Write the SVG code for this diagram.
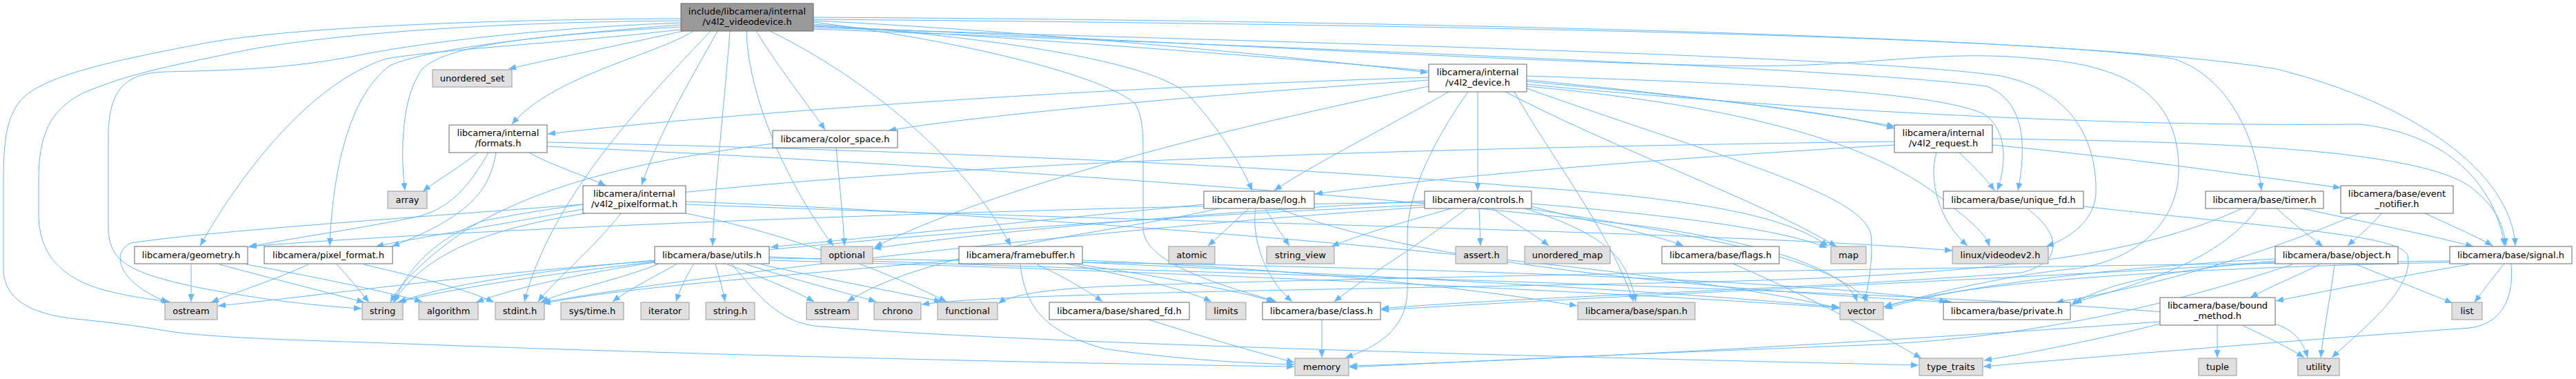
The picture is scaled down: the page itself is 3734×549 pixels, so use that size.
<svg xmlns="http://www.w3.org/2000/svg" width="3734" height="549" viewBox="0 0 3734 549">
<style>
text{font-family:"DejaVu Sans","Liberation Sans",sans-serif;font-size:13px;text-anchor:middle;fill:#000}
.w rect{fill:#fff;stroke:#666;stroke-width:1}
.g rect{fill:#e0e0e0;stroke:#999;stroke-width:1}
.m rect{fill:#999;stroke:#666;stroke-width:1}
#edges path{fill:none;stroke:#63b8ff;stroke-width:1;marker-end:url(#a)}
</style>
<defs>
<marker id="a" viewBox="0 0 11 9" refX="11" refY="4.5" markerWidth="11" markerHeight="9" orient="auto" markerUnits="userSpaceOnUse"><path d="M0,0 L11,4.5 L0,9 z" fill="#63b8ff" stroke="none"/></marker>
</defs>
<rect width="3734" height="549" fill="#fff"/>
<g id="edges">
<path d="M987,27 C700,28 420,40 300,62 C150,90 70,110 35,140 C10,165 5,200 5,260 L5,390 C5,430 40,455 110,462 C160,467 200,472 245,480 C330,492 500,494 640,500 C1000,513 1500,526 1876,531"/>
<path d="M987,30 C700,32 480,50 360,72 C250,95 190,105 120,135 C70,160 56,200 56,260 L56,310 C56,360 80,400 150,420 C190,430 215,433 246,437"/>
<path d="M987,33 C800,40 620,60 520,80 C420,100 330,102 240,104 C180,106 157,130 157,200 L157,330 C157,380 190,395 280,415 C380,435 470,444 524,447"/>
<path d="M992,42 C850,60 650,70 560,85 C450,120 350,250 290,356"/>
<path d="M987,36 C800,50 620,70 565,95 C505,140 482,250 478,356"/>
<path d="M987,39 C800,50 650,62 612,100 C582,140 580,220 587,276"/>
<path d="M990,45 C900,65 800,85 737,100"/>
<path d="M1005,45 C950,80 800,110 742,180"/>
<path d="M1040,45 C1010,100 960,180 930,268"/>
<path d="M1030,45 C950,130 800,280 760,437"/>
<path d="M1058,45 C1050,150 1035,280 1033,356"/>
<path d="M1082,45 C1085,150 1150,280 1208,356"/>
<path d="M1096,45 C1130,100 1170,150 1196,188"/>
<path d="M1116,45 C1250,110 1400,230 1465,356"/>
<path d="M1179,35 C1450,55 1680,90 1725,140 C1770,190 1800,240 1815,276"/>
<path d="M1179,32 C1400,60 1600,110 1645,150 C1658,170 1657,200 1657,240 L1657,330 C1657,380 1760,410 1850,437"/>
<path d="M1179,30 C1500,45 1900,85 2070,105"/>
<path d="M1179,37 C1700,70 2400,120 2746,183"/>
<path d="M1179,40 C1800,60 2700,80 2900,110 C3000,130 3040,200 3038,280 C3036,320 3000,345 2966,357"/>
<path d="M1179,42 C1900,70 2700,100 2880,125 C2930,145 2940,200 2925,276"/>
<path d="M1179,28 C2000,35 2900,50 3150,85 C3230,110 3270,200 3278,276"/>
<path d="M1179,25 C2000,30 3000,50 3300,100 C3500,150 3640,250 3646,356"/>
<path d="M1179,38 C1700,60 2200,90 2500,95 C2700,100 2800,70 2950,85 C3100,95 3160,150 3158,250 C3156,320 3100,380 2999,390 C2900,400 2780,430 2731,445"/>
<path d="M692,221 C670,240 635,260 613,277"/>
<path d="M708,221 C680,270 650,305 600,315 C500,335 420,345 360,358"/>
<path d="M719,221 C710,270 690,310 568,357"/>
<path d="M767,221 C800,240 850,255 878,269"/>
<path d="M793,206 C1200,215 1800,235 2200,270 C2500,290 2600,320 2650,357"/>
<path d="M793,212 C1300,235 2000,280 2400,330 C2600,360 2680,400 2692,437"/>
<path d="M845,296 C600,315 300,335 190,352 C160,365 170,410 244,438"/>
<path d="M848,309 C720,330 620,360 570,438"/>
<path d="M845,303 C700,330 600,345 545,357"/>
<path d="M900,309 C860,360 800,410 780,437"/>
<path d="M994,309 C1150,340 1300,400 1372,437"/>
<path d="M994,292 C1500,310 2400,380 2667,447"/>
<path d="M994,296 C1600,320 2500,335 2830,363"/>
<path d="M447,383 C400,405 350,420 306,438"/>
<path d="M488,383 C505,400 520,420 535,438"/>
<path d="M527,383 C600,400 680,420 716,438"/>
<path d="M277,383 L277,437"/>
<path d="M318,383 C400,405 480,425 528,438"/>
<path d="M357,383 C450,400 550,420 612,437"/>
<path d="M1212,214 C1216,260 1222,310 1224,356"/>
<path d="M1120,208 C950,230 800,260 680,330 C620,370 580,410 566,438"/>
<path d="M949,380 C850,395 750,415 690,438"/>
<path d="M949,377 C800,390 650,410 578,438"/>
<path d="M955,382 C900,405 820,420 784,438"/>
<path d="M980,383 C950,400 910,420 888,437"/>
<path d="M1005,383 C995,400 985,420 980,437"/>
<path d="M1037,383 C1042,400 1048,420 1051,437"/>
<path d="M1054,383 C1100,400 1150,420 1180,437"/>
<path d="M1082,383 C1150,405 1230,425 1270,437"/>
<path d="M1103,383 C1200,405 1310,425 1365,437"/>
<path d="M949,378 C700,395 450,430 316,443"/>
<path d="M1061,383 C1100,430 1130,465 1180,472 C1500,500 2400,520 2781,529"/>
<path d="M1115,372 C1600,395 3000,420 3300,470 C3330,480 3340,500 3345,518"/>
<path d="M1115,377 C1600,390 2300,420 2666,446"/>
<path d="M1115,374 C1800,380 2600,400 2822,437"/>
<path d="M1810,302 C1790,320 1770,340 1751,356"/>
<path d="M1834,302 C1845,320 1858,340 1869,356"/>
<path d="M1820,302 C1814,340 1830,400 1873,437"/>
<path d="M1853,302 C2000,360 2300,410 2830,438"/>
<path d="M1745,296 C1500,320 1300,340 1117,358"/>
<path d="M1767,302 C1600,340 1350,360 1228,437"/>
<path d="M2144,302 L2146,356"/>
<path d="M2163,302 C2190,320 2225,340 2245,356"/>
<path d="M2104,302 C2040,320 1970,340 1930,357"/>
<path d="M2126,302 C2050,360 1980,400 1934,437"/>
<path d="M2220,299 C2300,320 2400,340 2440,356"/>
<path d="M2220,295 C2400,310 2580,330 2648,359"/>
<path d="M2210,302 C2300,330 2345,360 2360,400 C2368,420 2370,430 2371,437"/>
<path d="M2215,302 C2450,340 2650,370 2708,437"/>
<path d="M2065,293 C1500,300 700,330 361,357"/>
<path d="M2065,297 C1500,320 800,380 576,438"/>
<path d="M2065,300 C1600,330 1000,400 787,438"/>
<path d="M2065,291 C1700,310 1400,340 1266,360"/>
<path d="M2071,112 C1500,130 1000,170 794,194"/>
<path d="M2071,116 C1700,140 1400,170 1288,189"/>
<path d="M2100,133 C2000,190 1900,240 1847,276"/>
<path d="M2142,133 L2142,276"/>
<path d="M2128,133 C2080,200 2040,280 2040,340 L2040,420 C2040,480 1990,505 1950,518"/>
<path d="M2182,133 C2350,220 2550,290 2662,357"/>
<path d="M2213,128 C2500,230 2700,280 2712,340 C2716,380 2706,420 2703,437"/>
<path d="M2071,125 C1700,200 1400,290 1268,358"/>
<path d="M2213,125 C2600,160 2750,230 2830,300 C2870,330 2880,345 2884,357"/>
<path d="M2213,122 C2500,150 3000,185 3420,180 C3560,195 3620,280 3630,356"/>
<path d="M2195,133 C2250,230 2330,330 2368,437"/>
<path d="M2213,110 C2500,120 2800,130 2875,165 C2915,190 2905,250 2895,276"/>
<path d="M2213,118 C2450,140 2650,160 2746,186"/>
<path d="M2807,221 C2795,260 2810,320 2852,356"/>
<path d="M2840,221 C2860,240 2880,260 2891,276"/>
<path d="M2888,210 C3100,230 3300,260 3393,272"/>
<path d="M2888,201 C3200,205 3500,215 3580,270 C3620,300 3630,330 3632,356"/>
<path d="M2746,210 C2400,230 2100,255 1906,281"/>
<path d="M2746,205 C2000,215 1100,240 700,320 C620,350 585,400 572,437"/>
<path d="M3020,299 C3300,330 3480,340 3490,370 C3500,420 3420,480 3380,518"/>
<path d="M2938,302 C2990,340 2990,380 2930,395 C2600,420 2200,430 2002,447"/>
<path d="M3300,302 C3320,320 3345,340 3367,357"/>
<path d="M3337,302 C3420,320 3520,340 3585,357"/>
<path d="M3272,302 C3230,360 3150,400 3006,438"/>
<path d="M3250,302 C3100,370 2900,400 2400,410 C1900,420 1450,425 1336,441"/>
<path d="M3452,309 C3435,330 3415,345 3403,356"/>
<path d="M3515,309 C3560,330 3595,345 3613,356"/>
<path d="M3420,309 C3300,360 3150,410 2980,438"/>
<path d="M3415,383 C3470,405 3520,425 3555,439"/>
<path d="M3384,383 C3378,430 3368,480 3364,518"/>
<path d="M3362,383 C3330,400 3290,415 3262,431"/>
<path d="M3298,378 C3150,390 3050,410 3002,442"/>
<path d="M3298,375 C3100,385 2850,410 2732,447"/>
<path d="M3298,380 C3000,400 2400,425 2002,449"/>
<path d="M3323,383 C3150,440 2950,490 2700,500 C2300,515 2100,525 1956,532"/>
<path d="M3629,383 C3615,400 3600,420 3587,438"/>
<path d="M3579,383 C3480,400 3380,420 3299,436"/>
<path d="M3640,383 C3645,440 3620,470 3580,475 C3300,495 3000,520 2875,531"/>
<path d="M3551,380 C3100,390 2850,410 2731,444"/>
<path d="M3551,378 C3000,385 2000,400 1600,415 C1500,420 1460,430 1447,440"/>
<path d="M3214,471 L3214,518"/>
<path d="M3250,471 C3290,490 3320,505 3340,518"/>
<path d="M3131,469 C3050,490 2950,510 2876,522"/>
<path d="M3131,466 C2800,490 2300,520 1956,530"/>
<path d="M1916,463 L1916,518"/>
<path d="M1665,463 C1750,490 1820,510 1876,525"/>
<path d="M2512,382 C2600,420 2700,470 2785,519"/>
<path d="M1503,383 C1540,400 1575,420 1598,437"/>
<path d="M1479,383 C1485,440 1510,480 1600,505 C1700,520 1800,526 1876,528"/>
<path d="M1545,382 C1640,400 1720,420 1756,437"/>
<path d="M1556,382 C1680,400 1790,420 1847,437"/>
<path d="M1390,376 C1200,395 900,415 787,440"/>
<path d="M1569,380 C2000,400 2400,420 2666,445"/>
<path d="M1569,377 C1900,390 2150,420 2286,443"/>
</g>
<g id="node-main" class="m"><rect x="987" y="5" width="192" height="40"/><text x="1083" y="21">include/libcamera/internal</text><text x="1083" y="36">/v4l2_videodevice.h</text></g>
<g id="node-unordered_set" class="g"><rect x="627" y="101" width="115" height="25"/><text x="684.5" y="118">unordered_set</text></g>
<g id="node-formats" class="w"><rect x="651" y="181" width="142" height="40"/><text x="722" y="197">libcamera/internal</text><text x="722" y="212">/formats.h</text></g>
<g id="node-color_space" class="w"><rect x="1120" y="189" width="181" height="25"/><text x="1210.5" y="206">libcamera/color_space.h</text></g>
<g id="node-v4l2_device" class="w"><rect x="2071" y="93" width="142" height="40"/><text x="2142" y="109">libcamera/internal</text><text x="2142" y="124">/v4l2_device.h</text></g>
<g id="node-v4l2_request" class="w"><rect x="2746" y="181" width="142" height="40"/><text x="2817" y="197">libcamera/internal</text><text x="2817" y="212">/v4l2_request.h</text></g>
<g id="node-array" class="g"><rect x="562" y="277" width="57" height="25"/><text x="590.5" y="294">array</text></g>
<g id="node-v4l2_pixelformat" class="w"><rect x="845" y="269" width="149" height="40"/><text x="919.5" y="285">libcamera/internal</text><text x="919.5" y="300">/v4l2_pixelformat.h</text></g>
<g id="node-log" class="w"><rect x="1745" y="277" width="160" height="25"/><text x="1825" y="294">libcamera/base/log.h</text></g>
<g id="node-controls" class="w"><rect x="2065" y="277" width="155" height="25"/><text x="2142.5" y="294">libcamera/controls.h</text></g>
<g id="node-unique_fd" class="w"><rect x="2817" y="277" width="203" height="25"/><text x="2918.5" y="294">libcamera/base/unique_fd.h</text></g>
<g id="node-timer" class="w"><rect x="3197" y="277" width="171" height="25"/><text x="3282.5" y="294">libcamera/base/timer.h</text></g>
<g id="node-event_notifier" class="w"><rect x="3393" y="269" width="163" height="40"/><text x="3474.5" y="285">libcamera/base/event</text><text x="3474.5" y="300">_notifier.h</text></g>
<g id="node-geometry" class="w"><rect x="195" y="357" width="164" height="25"/><text x="277" y="374">libcamera/geometry.h</text></g>
<g id="node-pixel_format" class="w"><rect x="383" y="357" width="186" height="25"/><text x="476" y="374">libcamera/pixel_format.h</text></g>
<g id="node-utils" class="w"><rect x="949" y="357" width="166" height="25"/><text x="1032" y="374">libcamera/base/utils.h</text></g>
<g id="node-optional" class="g"><rect x="1190" y="357" width="75" height="25"/><text x="1227.5" y="374">optional</text></g>
<g id="node-framebuffer" class="w"><rect x="1390" y="357" width="179" height="25"/><text x="1479.5" y="374">libcamera/framebuffer.h</text></g>
<g id="node-atomic" class="g"><rect x="1694" y="357" width="67" height="25"/><text x="1727.5" y="374">atomic</text></g>
<g id="node-string_view" class="g"><rect x="1836" y="357" width="98" height="25"/><text x="1885" y="374">string_view</text></g>
<g id="node-assert" class="g"><rect x="2110" y="357" width="75" height="25"/><text x="2147.5" y="374">assert.h</text></g>
<g id="node-unordered_map" class="g"><rect x="2210" y="357" width="124" height="25"/><text x="2272" y="374">unordered_map</text></g>
<g id="node-flags" class="w"><rect x="2409" y="357" width="170" height="25"/><text x="2494" y="374">libcamera/base/flags.h</text></g>
<g id="node-map" class="g"><rect x="2654" y="357" width="51" height="25"/><text x="2679.5" y="374">map</text></g>
<g id="node-videodev2" class="g"><rect x="2830" y="357" width="139" height="25"/><text x="2899.5" y="374">linux/videodev2.h</text></g>
<g id="node-object" class="w"><rect x="3298" y="357" width="178" height="25"/><text x="3387" y="374">libcamera/base/object.h</text></g>
<g id="node-signal" class="w"><rect x="3551" y="357" width="177" height="25"/><text x="3639.5" y="374">libcamera/base/signal.h</text></g>
<g id="node-ostream" class="g"><rect x="239" y="438" width="76" height="25"/><text x="277" y="455">ostream</text></g>
<g id="node-string" class="g"><rect x="525" y="438" width="59" height="25"/><text x="554.5" y="455">string</text></g>
<g id="node-algorithm" class="g"><rect x="607" y="438" width="86" height="25"/><text x="650" y="455">algorithm</text></g>
<g id="node-stdint" class="g"><rect x="718" y="438" width="71" height="25"/><text x="753.5" y="455">stdint.h</text></g>
<g id="node-systime" class="g"><rect x="813" y="438" width="91" height="25"/><text x="858.5" y="455">sys/time.h</text></g>
<g id="node-iterator" class="g"><rect x="929" y="438" width="70" height="25"/><text x="964" y="455">iterator</text></g>
<g id="node-stringh" class="g"><rect x="1023" y="438" width="71" height="25"/><text x="1058.5" y="455">string.h</text></g>
<g id="node-sstream" class="g"><rect x="1169" y="438" width="75" height="25"/><text x="1206.5" y="455">sstream</text></g>
<g id="node-chrono" class="g"><rect x="1267" y="438" width="68" height="25"/><text x="1301" y="455">chrono</text></g>
<g id="node-functional" class="g"><rect x="1359" y="438" width="87" height="25"/><text x="1402.5" y="455">functional</text></g>
<g id="node-shared_fd" class="w"><rect x="1521" y="438" width="203" height="25"/><text x="1622.5" y="455">libcamera/base/shared_fd.h</text></g>
<g id="node-limits" class="g"><rect x="1748" y="438" width="58" height="25"/><text x="1777" y="455">limits</text></g>
<g id="node-class" class="w"><rect x="1830" y="438" width="171" height="25"/><text x="1915.5" y="455">libcamera/base/class.h</text></g>
<g id="node-span" class="g"><rect x="2287" y="438" width="170" height="25"/><text x="2372" y="455">libcamera/base/span.h</text></g>
<g id="node-vector" class="g"><rect x="2667" y="438" width="63" height="25"/><text x="2698.5" y="455">vector</text></g>
<g id="node-private" class="w"><rect x="2817" y="438" width="184" height="25"/><text x="2909" y="455">libcamera/base/private.h</text></g>
<g id="node-list" class="g"><rect x="3554" y="438" width="44" height="25"/><text x="3576" y="455">list</text></g>
<g id="node-bound_method" class="w"><rect x="3131" y="431" width="167" height="40"/><text x="3214.5" y="447">libcamera/base/bound</text><text x="3214.5" y="462">_method.h</text></g>
<g id="node-memory" class="g"><rect x="1877" y="519" width="78" height="25"/><text x="1916" y="536">memory</text></g>
<g id="node-type_traits" class="g"><rect x="2782" y="519" width="92" height="25"/><text x="2828" y="536">type_traits</text></g>
<g id="node-tuple" class="g"><rect x="3187" y="519" width="55" height="25"/><text x="3214.5" y="536">tuple</text></g>
<g id="node-utility" class="g"><rect x="3331" y="519" width="60" height="25"/><text x="3361" y="536">utility</text></g>
</svg>
